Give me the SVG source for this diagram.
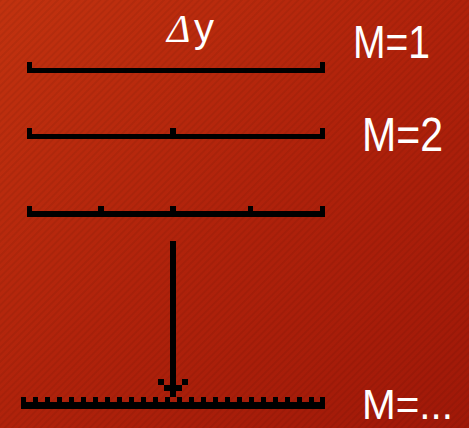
<svg xmlns="http://www.w3.org/2000/svg" width="469" height="428" viewBox="0 0 469 428">
<defs>
<linearGradient id="bg" x1="0" y1="0" x2="1" y2="1">
<stop offset="0" stop-color="#C2320F"/>
<stop offset="0.5" stop-color="#B0220B"/>
<stop offset="1" stop-color="#A01808"/>
</linearGradient>
<pattern id="stripes" width="5" height="5" patternUnits="userSpaceOnUse" patternTransform="rotate(-45)">
<rect width="5" height="2" fill="#000" fill-opacity="0.06"/>
</pattern>
</defs>
<style>
.bar{fill:#000}
.lbl{font-family:"Liberation Sans","DejaVu Sans",sans-serif;fill:#fff}
</style>
<rect width="469" height="428" fill="url(#bg)"/>
<rect width="469" height="428" fill="url(#stripes)"/>

<g id="label-dy">
<text x="167" y="42" font-size="40" font-style="italic" fill="#fff" font-family="Liberation Serif, serif">Δ</text>
<text class="lbl" x="194" y="42" font-size="40">y</text>
</g>

<g id="scale-m1">
<rect class="bar" x="27" y="68" width="298" height="5"/>
<rect class="bar" x="27" y="62" width="5" height="11"/>
<rect class="bar" x="320" y="62" width="5" height="11"/>
</g>
<text class="lbl" id="label-m1" x="353" y="58" font-size="46" textLength="77" lengthAdjust="spacingAndGlyphs">M=1</text>

<g id="scale-m2">
<rect class="bar" x="27" y="134" width="298" height="5"/>
<rect class="bar" x="27" y="128" width="5" height="11"/>
<rect class="bar" x="170" y="128" width="6" height="11"/>
<rect class="bar" x="320" y="128" width="5" height="11"/>
</g>
<text class="lbl" id="label-m2" x="362" y="151" font-size="48" textLength="81" lengthAdjust="spacingAndGlyphs">M=2</text>

<g id="scale-m4">
<rect class="bar" x="27" y="211" width="298" height="6"/>
<rect class="bar" x="27" y="206" width="5" height="11"/>
<rect class="bar" x="98" y="206" width="6" height="11"/>
<rect class="bar" x="170" y="206" width="6" height="11"/>
<rect class="bar" x="248" y="206" width="5" height="11"/>
<rect class="bar" x="320" y="206" width="5" height="11"/>
</g>

<g id="connectors">
<rect class="bar" x="170" y="241" width="6" height="156"/>
<rect class="bar" x="158" y="379" width="6" height="6"/>
<rect class="bar" x="182" y="379" width="6" height="6"/>
<rect class="bar" x="164" y="385" width="18" height="6"/>
<rect class="bar" x="170" y="391" width="6" height="6"/>
</g>

<g id="scale-mn">
<rect class="bar" x="21" y="402" width="304" height="7"/>
<path class="bar" d="M21 397h5v5h-5z M33 397h5v5h-5z M45 397h5v5h-5z M57 397h5v5h-5z M69 397h5v5h-5z M81 397h5v5h-5z M93 397h5v5h-5z M105 397h5v5h-5z M117 397h5v5h-5z M129 397h5v5h-5z M141 397h5v5h-5z M153 397h5v5h-5z M165 397h5v5h-5z M177 397h5v5h-5z M189 397h5v5h-5z M201 397h5v5h-5z M213 397h5v5h-5z M225 397h5v5h-5z M237 397h5v5h-5z M249 397h5v5h-5z M261 397h5v5h-5z M273 397h5v5h-5z M285 397h5v5h-5z M297 397h5v5h-5z M309 397h5v5h-5z M320 397h5v5h-5z"/>
</g>
<text class="lbl" id="label-mn" x="362" y="419" font-size="42" textLength="91" lengthAdjust="spacingAndGlyphs">M=...</text>
</svg>
